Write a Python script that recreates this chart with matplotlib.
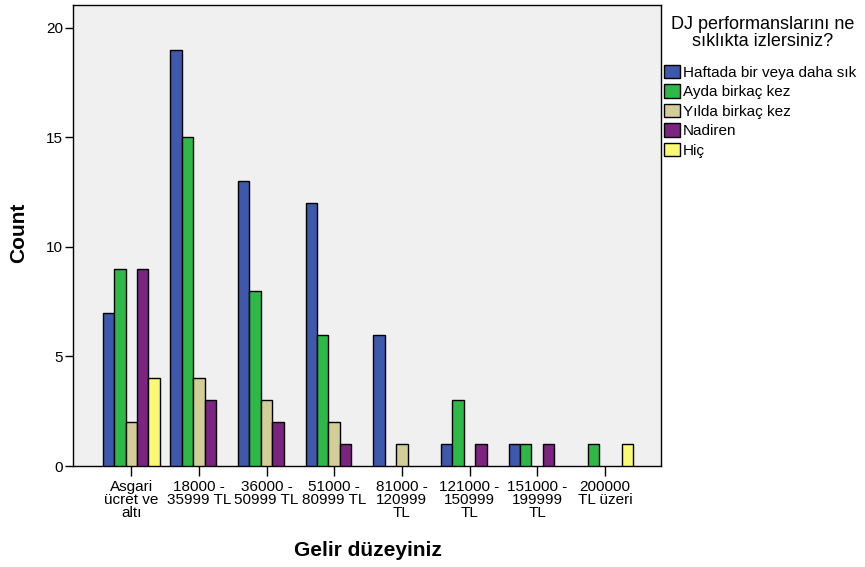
import matplotlib
matplotlib.use("Agg")
import matplotlib.pyplot as plt
import numpy as np
from matplotlib.patches import Patch

plt.rcParams['font.family'] = ['Liberation Sans', 'DejaVu Sans']

categories = ["Asgari\nücret ve\naltı", "18000 -\n35999 TL", "36000 -\n50999 TL",
              "51000 -\n80999 TL", "81000 -\n120999\nTL", "121000 -\n150999\nTL",
              "151000 -\n199999\nTL", "200000\nTL üzeri"]
series_names = ["Haftada bir veya daha sık", "Ayda birkaç kez", "Yılda birkaç kez",
                "Nadiren", "Hiç"]
haftada = [7, 19, 13, 12, 6, 1, 1, 0]
ayda = [9, 15, 8, 6, 0, 3, 1, 1]
yilda = [2, 4, 3, 2, 1, 0, 0, 0]
nadiren = [9, 3, 2, 1, 0, 1, 1, 0]
hic = [4, 0, 0, 0, 0, 0, 0, 1]
series = [haftada, ayda, yilda, nadiren, hic]
colors = ["#3e58ac", "#2eb848", "#d3ce97", "#7b2481", "#fbf873"]

fig = plt.figure(figsize=(8.65, 5.67), dpi=100)
ax = fig.add_axes([73/865, 1-466/567, (661-73)/865, (466-5)/567])
ax.set_facecolor("#f0f0f0")

x = np.arange(len(categories))
w = 0.168
for i, (vals, c) in enumerate(zip(series, colors)):
    vals = np.array(vals)
    mask = vals > 0
    ax.bar(x[mask] + (i - 2) * w, vals[mask], width=w, color=c,
           edgecolor="black", linewidth=1.0, zorder=3)

ax.set_xlim(-0.86, 7.83)
ax.set_ylim(0, 21.05)
ax.set_yticks([0, 5, 10, 15, 20])
ax.set_xticks(x)
ax.set_xticklabels(categories, fontsize=11, linespacing=0.92)
ax.tick_params(axis='y', labelsize=11, length=6, width=1, pad=1, colors='black')
ax.tick_params(axis='x', length=7, width=1, pad=3)
for s in ax.spines.values():
    s.set_linewidth(1.0)
    s.set_color('black')

fig.text(19/865, 1-233/567, "Count", fontsize=15, fontweight='bold',
         rotation=90, ha='center', va='center')
fig.text(368/865, 1-550/567, "Gelir düzeyiniz", fontsize=15, fontweight='bold',
         ha='center', va='center')

fig.text(763/865, 1-33/567, "DJ performanslarını ne\nsıklıkta izlersiniz?",
         fontsize=13, ha='center', va='center', multialignment='center',
         linespacing=0.95)

handles = [Patch(facecolor=c, edgecolor='black', linewidth=1.0) for c in colors]
leg = fig.legend(handles, series_names, loc='upper left',
                 bbox_to_anchor=(664/865, 1-65/567), frameon=False,
                 fontsize=11, handlelength=1.05, handleheight=0.98,
                 handletextpad=0.2, labelspacing=0.29, borderaxespad=0, borderpad=0)

fig.savefig("out.png", dpi=100)
